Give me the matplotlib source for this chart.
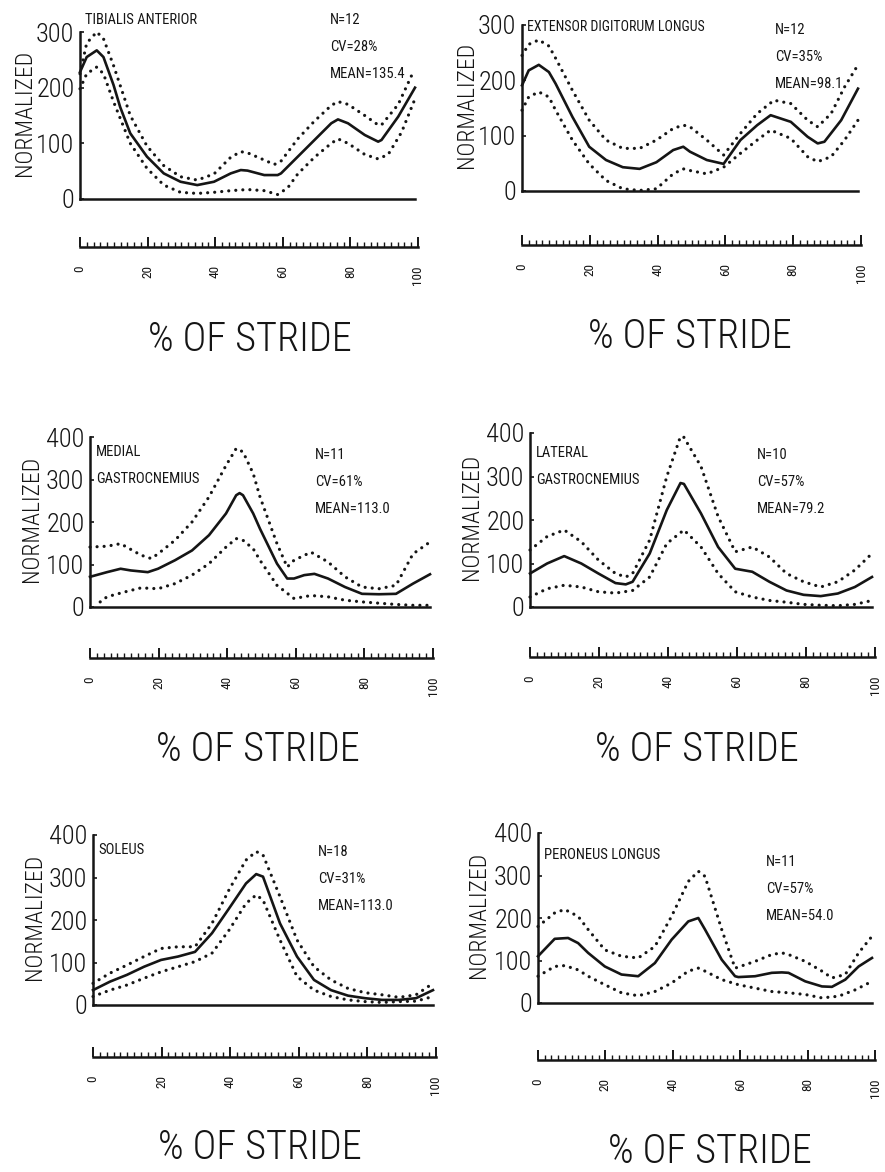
import matplotlib
matplotlib.use("Agg")
import matplotlib.pyplot as plt
from matplotlib import font_manager as fm
from matplotlib.ticker import MultipleLocator

# ---------------- data ----------------
pct_ticks = [0, 20, 40, 60, 80, 100]
pct_labels = ["0", "20", "40", "60", "80", "100"]

ta_x = [0, 2, 5, 7, 10, 12, 15, 20, 25, 30, 35, 40, 45, 48, 50, 55, 59, 60, 65, 70, 75, 77, 80, 85, 89, 90, 95, 100]
ta_mean = [228, 255, 267, 255, 205, 165, 118, 76, 46, 31, 25, 31, 46, 52, 51, 43, 43, 46, 76, 106, 136, 143, 136, 115, 103, 106, 148, 200]
ta_up_x = [0, 2, 5, 7, 10, 15, 20, 25, 30, 35, 40, 45, 48, 50, 55, 58, 60, 65, 70, 75, 77, 80, 85, 89, 90, 95, 99]
ta_up = [225, 280, 300, 288, 240, 150, 95, 60, 40, 34, 45, 75, 85, 83, 70, 62, 68, 108, 140, 168, 175, 170, 150, 133, 133, 170, 222]
ta_lo_x = [0, 2, 5, 7, 10, 15, 20, 25, 30, 35, 40, 45, 50, 55, 59, 62, 65, 70, 75, 77, 80, 85, 89, 92, 96, 100]
ta_lo = [198, 225, 237, 225, 175, 100, 55, 25, 12, 10, 12, 15, 17, 15, 8, 20, 45, 75, 100, 108, 100, 80, 72, 80, 120, 180]

edl_x = [0, 2, 5, 8, 10, 15, 20, 25, 30, 35, 40, 45, 48, 50, 55, 60, 65, 70, 74, 80, 85, 88, 90, 95, 100]
edl_mean = [191, 218, 228, 215, 194, 134, 80, 56, 43, 40, 52, 74, 80, 71, 56, 49, 92, 119, 137, 125, 98, 86, 89, 128, 185]
edl_up_x = [0, 2, 5, 8, 10, 15, 20, 25, 30, 35, 40, 45, 48, 50, 55, 60, 65, 70, 75, 80, 85, 88, 92, 96, 100]
edl_up = [245, 265, 273, 262, 240, 182, 128, 92, 77, 77, 92, 113, 119, 116, 92, 65, 104, 140, 164, 158, 128, 116, 140, 188, 228]
edl_lo_x = [0, 2, 5, 8, 10, 15, 20, 25, 30, 35, 40, 45, 48, 50, 55, 60, 65, 70, 74, 80, 85, 88, 92, 96, 100]
edl_lo = [146, 170, 179, 170, 146, 92, 49, 19, 4, 1, 4, 31, 40, 37, 31, 43, 68, 92, 110, 95, 62, 53, 62, 92, 128]

mg_x = [0, 5, 9, 12, 17, 20, 25, 30, 35, 40, 43, 44, 45, 48, 50, 55, 58, 60, 63, 66, 70, 75, 80, 85, 90, 95, 100]
mg_mean = [71, 82, 90, 86, 82, 90, 110, 133, 169, 220, 263, 268, 263, 220, 184, 102, 67, 67, 75, 78, 67, 47, 31, 30, 31, 55, 77]
mg_up_x = [0, 5, 9, 15, 18, 20, 25, 30, 35, 40, 43, 45, 48, 50, 55, 58, 60, 65, 70, 75, 80, 85, 90, 95, 100]
mg_up = [141, 143, 149, 122, 114, 125, 157, 200, 259, 333, 373, 365, 314, 259, 149, 94, 110, 129, 106, 71, 47, 43, 51, 125, 153]
mg_lo_x = [3, 5, 10, 15, 20, 25, 30, 35, 40, 43, 45, 48, 50, 55, 60, 65, 70, 75, 80, 85, 90, 95, 100]
mg_lo = [12, 24, 35, 45, 43, 55, 75, 102, 141, 161, 157, 137, 110, 51, 20, 27, 24, 16, 12, 9, 6, 4, 4]

lg_x = [0, 5, 10, 15, 20, 25, 28, 30, 35, 40, 44, 45, 50, 55, 60, 65, 70, 75, 80, 85, 90, 95, 100]
lg_mean = [77, 100, 117, 100, 77, 55, 52, 58, 123, 223, 285, 283, 215, 138, 88, 81, 58, 38, 28, 25, 31, 46, 69]
lg_up_x = [0, 5, 10, 15, 20, 25, 28, 30, 35, 40, 44, 45, 50, 55, 60, 65, 70, 75, 80, 85, 90, 95, 100]
lg_up = [131, 162, 177, 150, 108, 77, 69, 77, 154, 300, 392, 390, 323, 208, 127, 138, 115, 77, 58, 46, 58, 85, 123]
lg_lo_x = [0, 5, 10, 15, 20, 25, 30, 35, 40, 45, 50, 55, 60, 65, 70, 75, 80, 85, 90, 95, 100]
lg_lo = [23, 42, 50, 46, 35, 32, 38, 69, 146, 177, 138, 77, 35, 23, 15, 11, 6, 4, 3, 6, 15]

sol_x = [0, 5, 10, 15, 20, 25, 30, 35, 40, 45, 48, 50, 55, 60, 65, 70, 75, 80, 85, 90, 95, 100]
sol_mean = [35, 55, 71, 90, 106, 114, 125, 169, 227, 286, 308, 302, 192, 114, 59, 35, 22, 16, 12, 12, 16, 35]
sol_up = [51, 75, 94, 114, 133, 137, 137, 192, 271, 341, 361, 353, 255, 153, 90, 59, 39, 29, 24, 18, 24, 51]
sol_lo = [20, 35, 47, 63, 78, 90, 102, 122, 176, 239, 259, 247, 153, 67, 35, 20, 12, 8, 6, 8, 9, 20]

pl_x = [0, 5, 9, 12, 15, 20, 25, 30, 35, 40, 45, 48, 50, 55, 59, 60, 65, 70, 73, 75, 80, 85, 88, 92, 96, 100]
pl_mean = [110, 151, 153, 141, 118, 86, 67, 63, 94, 149, 192, 200, 173, 102, 63, 61, 63, 71, 72, 71, 51, 39, 38, 55, 86, 106]
pl_up_x = [0, 5, 8, 12, 15, 20, 25, 30, 35, 40, 45, 48, 50, 55, 59, 65, 70, 73, 75, 80, 85, 88, 92, 96, 100]
pl_up = [180, 212, 220, 204, 173, 125, 110, 106, 133, 204, 286, 310, 298, 173, 82, 98, 114, 118, 114, 98, 75, 59, 67, 118, 157]
pl_lo_x = [0, 5, 8, 12, 15, 20, 25, 30, 35, 40, 45, 48, 50, 55, 60, 65, 70, 75, 80, 85, 90, 95, 100]
pl_lo = [63, 86, 88, 78, 63, 43, 24, 17, 27, 47, 75, 82, 75, 55, 43, 35, 27, 24, 20, 12, 16, 31, 51]

names = [["TIBIALIS ANTERIOR"], ["EXTENSOR DIGITORUM LONGUS"], ["MEDIAL", "GASTROCNEMIUS"],
         ["LATERAL", "GASTROCNEMIUS"], ["SOLEUS"], ["PERONEUS LONGUS"]]
stats = [["N=12", "CV=28%", "MEAN=135.4"], ["N=12", "CV=35%", "MEAN=98.1"],
         ["N=11", "CV=61%", "MEAN=113.0"], ["N=10", "CV=57%", "MEAN=79.2"],
         ["N=18", "CV=31%", "MEAN=113.0"], ["N=11", "CV=57%", "MEAN=54.0"]]
ymaxes = [300, 300, 400, 400, 400, 400]
series = [
    (ta_x, ta_mean, ta_up_x, ta_up, ta_lo_x, ta_lo),
    (edl_x, edl_mean, edl_up_x, edl_up, edl_lo_x, edl_lo),
    (mg_x, mg_mean, mg_up_x, mg_up, mg_lo_x, mg_lo),
    (lg_x, lg_mean, lg_up_x, lg_up, lg_lo_x, lg_lo),
    (sol_x, sol_mean, sol_x, sol_up, sol_x, sol_lo),
    (pl_x, pl_mean, pl_up_x, pl_up, pl_lo_x, pl_lo),
]

# ---------------- fonts ----------------
avail = {f.name for f in fm.fontManager.ttflist}
FONT = "DejaVu Sans"
for cand in ["Liberation Sans Narrow", "DejaVu Sans Condensed", "Roboto Condensed",
             "Open Sans Condensed", "Noto Sans Condensed"]:
    if cand in avail:
        FONT = cand
        break
plt.rcParams["font.family"] = [FONT, "DejaVu Sans"]

W, H = 885, 1172
fig = plt.figure(figsize=(W / 100, H / 100), dpi=100)
INK = "#151515"
DOTS = (0, (0.01, 2.2))

# pixel layout: (x0, x100, baseline_y, top_y, ruler_y, xlabel_cx, xlabel_cy,
#                name_x, name_y, stats_x, stats_y, ylab_x)
layout = [
    (80, 415, 199, 32, 247, 250, 340, 85, 20, 330, 20, 24),
    (522, 858, 191, 25, 245, 690, 337, 527, 27, 775, 30, 466),
    (90, 430, 607, 437, 658, 258, 750, 96, 452, 315, 455, 31),
    (530, 872, 607, 433, 657, 697, 750, 536, 453, 757, 455, 471),
    (93, 433, 1005, 835, 1057, 260, 1148, 98, 850, 318, 852, 34),
    (538, 872, 1003, 833, 1060, 710, 1152, 544, 855, 766, 862, 478),
]


def fx(px):
    return px / W


def fy(py):
    return 1 - py / H


for i, (x0, x1, yb, yt, yr, cx, cy, nx, ny, sx, sy, ylx) in enumerate(layout):
    ax = fig.add_axes([fx(x0), fy(yb), (x1 - x0) / W, (yb - yt) / H])
    ax.set_xlim(0, 100)
    ax.set_ylim(0, ymaxes[i])
    ax.patch.set_alpha(0)
    for s in ["top", "right"]:
        ax.spines[s].set_visible(False)
    for s in ["left", "bottom"]:
        ax.spines[s].set_linewidth(1.8)
        ax.spines[s].set_color(INK)
    ax.set_xticks([])
    ax.set_yticks(range(0, ymaxes[i] + 1, 100))
    ax.tick_params(axis="y", direction="in", length=3, width=1.2, labelsize=19,
                   pad=4, colors=INK)
    for lab in ax.get_yticklabels():
        lab.set_fontweight("light")

    xm, ym, xu, yu, xl, yl = series[i]
    ax.plot(xm, ym, color=INK, lw=1.9, clip_on=False, solid_joinstyle="round")
    ax.plot(xu, yu, color=INK, lw=2.3, ls=DOTS, dash_capstyle="round",
            clip_on=False)
    ax.plot(xl, yl, color=INK, lw=2.3, ls=DOTS, dash_capstyle="round",
            clip_on=False)

    # y label
    fig.text(fx(ylx), fy((yb + yt) / 2 - 3), "NORMALIZED", rotation=90,
             ha="center", va="center", fontsize=17, color=INK, fontweight="light")

    # muscle name
    for k, line in enumerate(names[i]):
        fig.text(fx(nx), fy(ny + 27 * k), line, ha="left", va="center",
                 fontsize=10.5 if len(line) < 20 else 10, color=INK)
    # stats
    for k, line in enumerate(stats[i]):
        fig.text(fx(sx), fy(sy + 27 * k), line, ha="left", va="center",
                 fontsize=10.5, color=INK)

    # ruler axis
    rx = fig.add_axes([fx(x0), fy(yr), (x1 - x0 + 3) / W, 10 / H])
    rx.set_xlim(0, 100)
    rx.patch.set_alpha(0)
    for s in ["top", "right", "left"]:
        rx.spines[s].set_visible(False)
    rx.spines["bottom"].set_linewidth(1.8)
    rx.spines["bottom"].set_color(INK)
    rx.set_yticks([])
    rx.set_xticks(pct_ticks)
    rx.set_xticklabels(pct_labels, rotation=90, va="top", ha="center")
    rx.xaxis.set_minor_locator(MultipleLocator(2))
    rx.tick_params(axis="x", which="major", direction="in", length=7, width=1.4,
                   pad=13, labelsize=9.5, colors=INK)
    rx.tick_params(axis="x", which="minor", direction="in", length=3.5, width=1.0,
                   colors=INK)

    fig.text(fx(cx), fy(cy), "% OF STRIDE", ha="center", va="center",
             fontsize=29, color=INK, fontweight="light")

fig.savefig("out.png", dpi=100, facecolor="white")
